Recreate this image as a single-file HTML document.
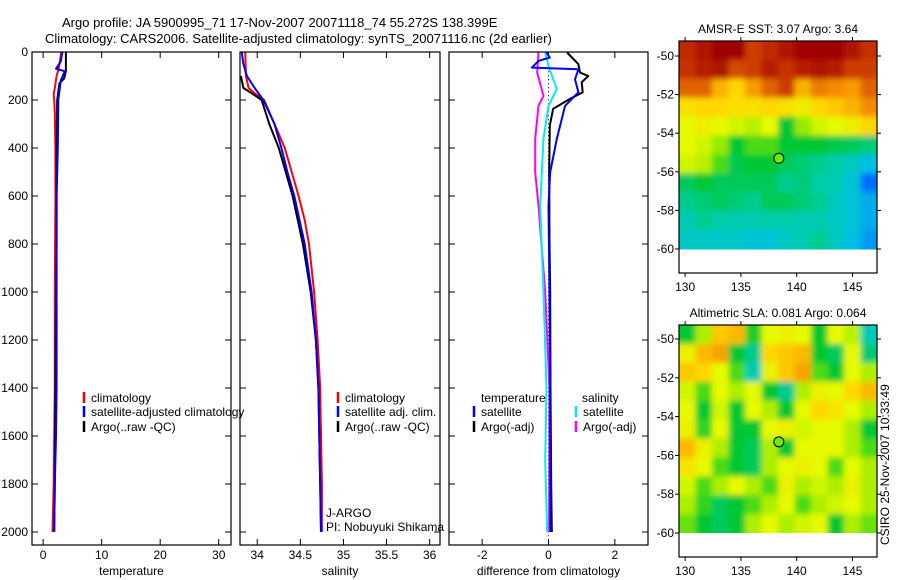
<!DOCTYPE html>
<html><head><meta charset="utf-8">
<style>
html,body{margin:0;padding:0;background:#fff;}
svg{display:block;font-family:"Liberation Sans",sans-serif;}
</style></head>
<body>
<svg id="fig" width="900" height="580" viewBox="0 0 900 580">
<defs>
<filter id="blur" x="-5%" y="-5%" width="110%" height="110%"><feGaussianBlur stdDeviation="3"/></filter>
<clipPath id="clip1"><rect x="679" y="41" width="198" height="208.5"/></clipPath>
<clipPath id="clip2"><rect x="679" y="325" width="198" height="208"/></clipPath>
</defs>
<text x="62" y="27" font-size="13">Argo profile: JA 5900995_71 17-Nov-2007 20071118_74 55.272S 138.399E</text>
<text x="45" y="43" font-size="13">Climatology: CARS2006. Satellite-adjusted climatology: synTS_20071116.nc (2d earlier)</text>
<text transform="translate(889,545) rotate(-90)" font-size="12">CSIRO 25-Nov-2007 10:33:49</text>
</svg>
<script>
// ---------- data ----------
const depthTicks=[0,200,400,600,800,1000,1200,1400,1600,1800,2000];
const tempTicks=[0,10,20,30];
const salTicks=[34,34.5,35,35.5,36];
const diffTicks=[-2,0,2];
const tClimD=[0,50,75,100,150,175,200,250,400,600,1000,1400,1800,2000];
const tClimV=[3.1,2.8,2.6,2.3,2.0,1.8,1.9,2.0,2.1,2.1,2.0,2.0,1.8,1.6];
const tSatD=[0,40,70,80,120,200,400,600,1000,1400,1600,1800,2000];
const tSatV=[3.3,3.0,2.2,3.7,3.0,2.6,2.5,2.3,2.3,2.3,2.2,2.0,1.9];
const tArgoD=[0,80,110,130,200,400,800,1000,1400,1800,2000];
const tArgoV=[3.9,3.9,3.6,2.8,2.4,2.3,2.3,2.2,2.1,2.0,1.9];
const sClimD=[0,100,150,175,200,300,400,500,600,700,800,1000,1200,1400,1600,1800,2000];
const sClimV=[33.86,33.87,33.9,33.98,34.08,34.2,34.32,34.4,34.48,34.55,34.6,34.66,34.7,34.73,34.74,34.75,34.75];
const sSatD=[0,50,100,150,200,300,400,500,600,800,1000,1200,1400,1600,1800,2000];
const sSatV=[33.82,33.84,33.88,33.97,34.07,34.2,34.28,34.35,34.43,34.55,34.63,34.68,34.71,34.72,34.73,34.74];
const sArgoD=[100,150,175,200,300,400,500,600,800,1000,1200,1400,1600,1800,2000];
const sArgoV=[33.81,33.84,33.95,34.05,34.14,34.25,34.33,34.41,34.53,34.62,34.68,34.71,34.72,34.73,34.74];
const dTArgoD=[2,51,86,100,126,168,196,237,307,501,800,1000,1400,1800,2000];
const dTArgoV=[0.56,0.9,0.95,1.2,1.0,1.03,0.64,0.14,0.04,0.02,0.03,0.05,0.06,0.08,0.1];
const dTSatD=[2,23,37,65,72,114,168,224,362,501,640,1000,1400,2000];
const dTSatV=[-0.06,0.04,-0.3,-0.5,0.9,0.8,0.9,0.5,0.25,0.05,0.0,0.03,0.05,0.06];
const dSSatD=[2,58,155,224,362,640,1000,1400,1700,2000];
const dSSatV=[-0.1,0,0.25,0,-0.15,-0.25,-0.15,-0.06,-0.1,-0.04];
const dSArgoD=[2,86,183,224,362,501,640,1000,1400,2000];
const dSArgoV=[-0.3,-0.34,-0.15,-0.3,-0.4,-0.4,-0.3,-0.1,0.03,0.02];
const lonTicks=[130,135,140,145];
const latTicks=[-50,-52,-54,-56,-58,-60];
const sstGrid=[
[.93,.97,1,1,.9,.93,.97,1,1,1,.97,.92],
[.92,.95,.97,.88,.9,.95,.92,.95,.97,.95,.9,.9],
[.85,.85,.75,.7,.78,.85,.9,.75,.82,.8,.78,.85],
[.68,.7,.7,.68,.68,.7,.68,.65,.7,.72,.75,.8],
[.62,.65,.62,.6,.58,.62,.45,.55,.6,.62,.65,.7],
[.62,.6,.55,.45,.5,.5,.45,.45,.45,.43,.42,.4],
[.6,.58,.5,.43,.45,.45,.42,.4,.38,.36,.33,.28],
[.42,.45,.42,.42,.42,.42,.38,.4,.36,.35,.3,.15],
[.38,.4,.42,.4,.38,.42,.42,.4,.38,.33,.3,.25],
[.35,.38,.36,.35,.35,.36,.36,.35,.35,.33,.3,.25],
[.33,.33,.32,.32,.3,.3,.33,.35,.38,.33,.28,.22]];
const slaGrid=[
[.45,.57,.72,.74,.47,.62,.64,.62,.45,.62,.58,.35],
[.64,.74,.77,.45,.38,.7,.72,.74,.45,.42,.62,.4],
[.72,.7,.62,.5,.35,.64,.72,.77,.5,.45,.62,.57],
[.6,.5,.62,.57,.62,.45,.38,.57,.64,.62,.7,.74],
[.62,.45,.6,.45,.62,.57,.45,.62,.7,.67,.62,.57],
[.64,.48,.62,.45,.45,.62,.64,.6,.62,.62,.57,.45],
[.74,.64,.57,.45,.42,.57,.45,.62,.62,.62,.57,.5],
[.67,.62,.5,.45,.42,.57,.62,.64,.62,.5,.62,.57],
[.6,.5,.57,.62,.57,.5,.64,.57,.6,.57,.64,.57],
[.57,.48,.42,.45,.5,.57,.62,.5,.57,.6,.62,.57],
[.52,.45,.42,.45,.57,.62,.57,.6,.62,.45,.57,.52]];
const argoLon=138.4, argoLat=-55.3;

// ---------- helpers ----------
const NS="http://www.w3.org/2000/svg";
const svg=document.getElementById('fig');
function mk(tag,attrs,parent){const e=document.createElementNS(NS,tag);for(const k in attrs)e.setAttribute(k,attrs[k]);(parent||svg).appendChild(e);return e;}
function txt(x,y,s,anchor,size,parent){const t=mk('text',{x:x,y:y,'font-size':size||12,'text-anchor':anchor||'start'},parent);t.textContent=s;return t;}

const top0=52, bot0=545;
const yD=d=>top0+(d-0)*(532-52)/2000;

function panel(name,left,right,xmin,xmax,xticks,xlabel,showY){
  const g=mk('g',{});
  
  
  const xs=v=>left+(v-xmin)/(xmax-xmin)*(right-left);
  for(const v of xticks){
    const x=xs(v);
    mk('line',{x1:x,x2:x,y1:bot0,y2:bot0-6,stroke:'#000'},g);
    mk('line',{x1:x,x2:x,y1:top0,y2:top0+6,stroke:'#000'},g);
    const t=txt(x,bot0+14,String(v),'middle',12,g);
    
    
  }
  for(const d of depthTicks){
    const y=yD(d);
    mk('line',{x1:left,x2:left+6,y1:y,y2:y,stroke:'#000'},g);
    mk('line',{x1:right,x2:right-6,y1:y,y2:y,stroke:'#000'},g);
    if(showY){const t=txt(left-4,y+4,String(d),'end',12,g);
      
      }
  }
  const xl=txt((left+right)/2,bot0+30,xlabel,'middle',12,g);
  
  
  return {g,xs};
}
function step(p,D,V,color,name,w){
  let d='';
  for(let i=0;i<D.length;i++){const x=p.xs(V[i]).toFixed(1),y=yD(D[i]).toFixed(1);d+=(i?'L':'M')+x+','+y;}
  const e=mk('path',{d:d,fill:'none',stroke:color,'stroke-width':w||2,'stroke-linejoin':'round'},p.g);
  
  
}
function frame(p,left,right){mk('rect',{x:left,y:top0,width:right-left,height:bot0-top0,fill:'none',stroke:'#000','stroke-width':1.2},p.g);}
function legend(p,x,y,color,label){
  const g=mk('g',{},p.g);
  
  
  mk('line',{x1:x,x2:x,y1:y-10,y2:y+1,stroke:color,'stroke-width':2.5},g);
  txt(x+7,y,label,'start',12,g);
}

// Panel 1 temperature
const p1=panel('temperature-panel',32,231,-1.9,32.1,tempTicks,'temperature',true);
step(p1,tClimD,tClimV,'#f00','temp-climatology-line');
step(p1,tArgoD,tArgoV,'#000','temp-argo-line');
step(p1,tSatD,tSatV,'#00f','temp-satellite-line');
frame(p1,32,231);
legend(p1,84,402,'#f00','climatology');
legend(p1,84,416,'#00f','satellite-adjusted climatology');
legend(p1,84,431,'#000','Argo(..raw -QC)');

// Panel 2 salinity
const p2=panel('salinity-panel',240,440,33.8,36.12,salTicks,'salinity',false);
step(p2,sClimD,sClimV,'#f00','sal-climatology-line');
step(p2,sArgoD,sArgoV,'#000','sal-argo-line');
step(p2,sSatD,sSatV,'#00f','sal-satellite-line');
frame(p2,240,440);
legend(p2,338,402,'#f00','climatology');
legend(p2,338,416,'#00f','satellite adj. clim.');
legend(p2,338,431,'#000','Argo(..raw -QC)');
const j1=txt(326,517,'J-ARGO','start',12,p2.g);


const j2=txt(326,531,'PI: Nobuyuki Shikama','start',12,p2.g);



// Panel 3 difference
const p3=panel('difference-panel',449,648,-3.0,3.0,diffTicks,'difference from climatology',false);
mk('line',{x1:p3.xs(0),x2:p3.xs(0),y1:yD(80),y2:yD(2054),stroke:'#000','stroke-dasharray':'1,3'},p3.g);
step(p3,dSArgoD,dSArgoV,'#f0f','diff-sal-argo-line');
step(p3,dSSatD,dSSatV,'#0ee','diff-sal-satellite-line');
step(p3,dTArgoD,dTArgoV,'#000','diff-temp-argo-line');
step(p3,dTSatD,dTSatV,'#00f','diff-temp-satellite-line');
frame(p3,449,648);
txt(481,402,'temperature','start',12,p3.g);
txt(582,402,'salinity','start',12,p3.g);
legend(p3,474,416,'#00f','satellite');
legend(p3,474,431,'#000','Argo(-adj)');
legend(p3,576,416,'#0ee','satellite');
legend(p3,576,431,'#f0f','Argo(-adj)');

// ---------- maps ----------
const stops=[[0,[0,50,190]],[0.15,[0,110,255]],[0.28,[0,190,230]],[0.36,[0,205,170]],[0.45,[0,200,50]],[0.55,[150,235,0]],[0.62,[230,250,0]],[0.7,[255,215,0]],[0.8,[245,140,0]],[0.9,[205,60,0]],[1,[160,0,0]]];
function cmap(v){
  v=Math.max(0,Math.min(1,v));
  for(let i=1;i<stops.length;i++){
    if(v<=stops[i][0]){const a=stops[i-1],b=stops[i];const t=(v-a[0])/(b[0]-a[0]);
      const c=a[1].map((q,k)=>Math.round(q+(b[1][k]-q)*t));return `rgb(${c[0]},${c[1]},${c[2]})`;}
  }
  return 'rgb(160,0,0)';
}
function map(name,title,grid,fTop,fBot,latY50,latY60,clip){
  const L=679,R=877,lonMin=129.45,lonMax=147.2;
  const g=mk('g',{});
  
  
  const xs=lon=>L+(lon-lonMin)/(lonMax-lonMin)*(R-L);
  const ys=lat=>latY50+(lat+50)/(-10)*(latY60-latY50);
  const cTop=fTop, cBot=ys(-60);
  const rows=grid.length, cols=grid[0].length;
  const cw=(R-L)/cols, ch=(cBot-cTop)/rows;
  const cg=mk('g',{'clip-path':'url(#'+clip+')'},g);
  const bg=mk('g',{filter:'url(#blur)'},cg);
  for(let r=-1;r<=rows;r++)for(let c=-1;c<=cols;c++){
    const rr=Math.max(0,Math.min(rows-1,r)), cc=Math.max(0,Math.min(cols-1,c));
    const cell=mk('rect',{x:(L+c*cw).toFixed(2),y:(cTop+r*ch).toFixed(2),width:(cw+0.6).toFixed(2),height:(ch+0.6).toFixed(2),fill:cmap(grid[rr][cc])},bg);
    
    
  }
  mk('rect',{x:L,y:fTop,width:R-L,height:fBot-fTop,fill:'none',stroke:'#000','stroke-width':1.2},g);
  for(const lon of lonTicks){const x=xs(lon);
    mk('line',{x1:x,x2:x,y1:fTop,y2:fTop-4,stroke:'#000'},g);
    mk('line',{x1:x,x2:x,y1:fBot,y2:fBot+4,stroke:'#000'},g);
    txt(x,fBot+18,String(lon),'middle',12,g);}
  for(const lat of latTicks){const y=ys(lat);
    mk('line',{x1:L,x2:L-4,y1:y,y2:y,stroke:'#000'},g);
    mk('line',{x1:R,x2:R+4,y1:y,y2:y,stroke:'#000'},g);
    txt(L-5,y+4,String(lat),'end',12,g);}
  const c=mk('circle',{cx:xs(argoLon),cy:ys(argoLat),r:5,fill:'#6e0',stroke:'#000','stroke-width':1},g);
  
  
  const t=txt((L+R)/2,fTop-8,title,'middle',12,g);
  
  
}
map('sst-map','AMSR-E SST: 3.07  Argo: 3.64',sstGrid,41,273,56,249,'clip1');
map('sla-map','Altimetric SLA: 0.081  Argo: 0.064',slaGrid,325,557,339,533,'clip2');
</script>
</body></html>
